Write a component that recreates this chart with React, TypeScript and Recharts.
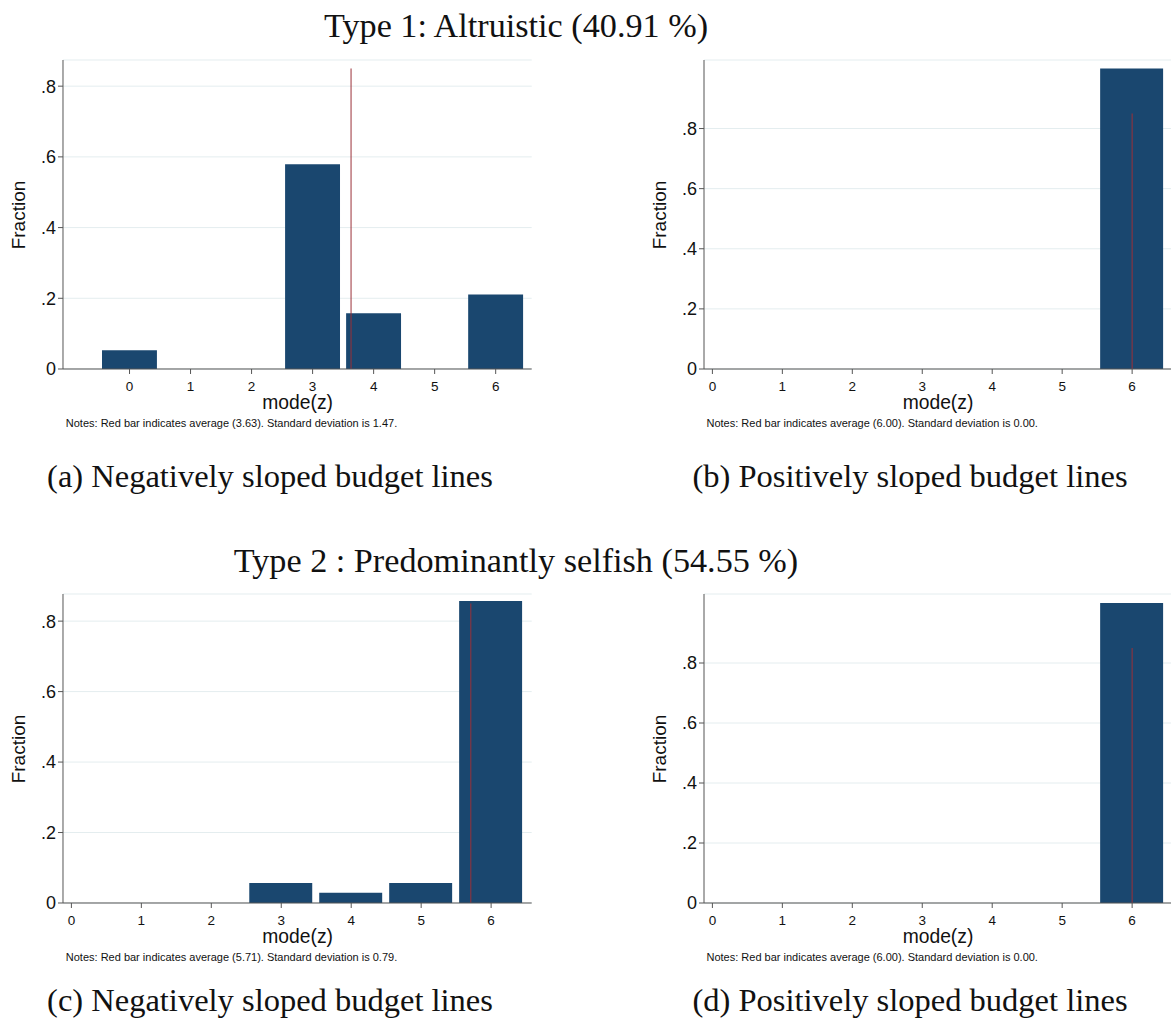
import React from 'react'
import { ComposedChart, Bar, XAxis, YAxis, CartesianGrid, ReferenceLine } from 'recharts'

// histogram of mode(z), one value per mode 0..6
const modes = [0, 1, 2, 3, 4, 5, 6]
const type1Negative = [0.053, 0, 0, 0.579, 0.158, 0, 0.211]
const type1Positive = [0, 0, 0, 0, 0, 0, 1]
const type2Negative = [0, 0, 0, 0.057, 0.029, 0.057, 0.857]
const type2Positive = [0, 0, 0, 0, 0, 0, 1]
const averages = [3.63, 6.0, 5.71, 6.0]
const stdDevs = [1.47, 0.0, 0.79, 0.0]
const redBarHeight = 0.85
const yTicks = [0, 0.2, 0.4, 0.6, 0.8]

const titles = ['Type 1: Altruistic (40.91 %)', 'Type 2 : Predominantly selfish (54.55 %)']
const captions = [
  '(a) Negatively sloped budget lines',
  '(b) Positively sloped budget lines',
  '(c) Negatively sloped budget lines',
  '(d) Positively sloped budget lines',
]

const NAVY = '#1a476f'
const RED = '#9b3038'
const GRID = '#e4edef'
const AXIS = '#555'
const SANS = '"Liberation Sans", Arial, sans-serif'
const SERIF = '"Liberation Serif", "Times New Roman", serif'

const fmtY = (v: number) => (v === 0 ? '0' : v.toFixed(1).replace(/^0/, ''))

interface PanelProps {
  values: number[]
  mean: number
  sd: number
  xDomain: [number, number]
  yMax: number
  plotLeft: number
  plotTop: number
  plotWidth: number
  plotHeight: number
}

function Panel({ values, mean, sd, xDomain, yMax, plotLeft, plotTop, plotWidth, plotHeight }: PanelProps) {
  const rows = modes.map((m, i) => ({ mode: m, fraction: values[i] }))
  const ML = 60
  const MT = 10
  const MR = 10
  const XH = 30
  // bars are 0.9 of one mode wide
  const barSize = (0.9 * plotWidth) / (xDomain[1] - xDomain[0])
  const cx = plotLeft + plotWidth / 2
  const cy = plotTop + plotHeight / 2

  return (
    <>
      <div style={{ position: 'absolute', left: plotLeft - ML, top: plotTop - MT }}>
        <ComposedChart
          width={ML + plotWidth + MR}
          height={MT + plotHeight + XH}
          data={rows}
          margin={{ top: MT, right: MR, bottom: 0, left: 0 }}
        >
          <CartesianGrid vertical={false} stroke={GRID} />
          <XAxis
            dataKey="mode"
            type="number"
            domain={xDomain}
            ticks={modes}
            interval={0}
            allowDataOverflow
            height={XH}
            tickSize={5}
            tickMargin={7}
            axisLine={{ stroke: AXIS }}
            tickLine={{ stroke: AXIS }}
            tick={{ fill: '#111', fontSize: 13.5, fontFamily: SANS }}
          />
          <YAxis
            type="number"
            domain={[0, yMax]}
            ticks={yTicks}
            allowDataOverflow
            width={ML}
            tickSize={5}
            tickMargin={2}
            tickFormatter={fmtY}
            axisLine={{ stroke: AXIS }}
            tickLine={{ stroke: AXIS }}
            tick={{ fill: '#111', fontSize: 18, fontFamily: SANS }}
          />
          <Bar dataKey="fraction" fill={NAVY} barSize={barSize} isAnimationActive={false} />
          <ReferenceLine
            segment={[{ x: mean, y: 0 }, { x: mean, y: redBarHeight }]}
            stroke={RED}
            strokeWidth={1}
          />
        </ComposedChart>
      </div>
      <div
        style={{
          position: 'absolute',
          left: plotLeft - 44,
          top: cy,
          transform: 'translate(-50%, -50%) rotate(-90deg)',
          fontFamily: SANS,
          fontSize: 19,
          lineHeight: 0.9,
          whiteSpace: 'nowrap',
          color: '#111',
        }}
      >
        Fraction
      </div>
      <div
        style={{
          position: 'absolute',
          left: cx,
          top: plotTop + plotHeight + 33.5,
          transform: 'translate(-50%, -50%)',
          fontFamily: SANS,
          fontSize: 19.3,
          lineHeight: 0.9,
          whiteSpace: 'nowrap',
          color: '#111',
        }}
      >
        mode(z)
      </div>
      <div
        style={{
          position: 'absolute',
          left: plotLeft + 2.5,
          top: plotTop + plotHeight + 54,
          transform: 'translateY(-50%)',
          fontFamily: SANS,
          fontSize: 11,
          lineHeight: 1,
          whiteSpace: 'nowrap',
          color: '#111',
        }}
      >
        {`Notes: Red bar indicates average (${mean.toFixed(2)}). Standard deviation is ${sd.toFixed(2)}.`}
      </div>
    </>
  )
}

function Caption({ text, cx, top, size }: { text: string; cx: number; top: number; size: number }) {
  return (
    <div
      style={{
        position: 'absolute',
        left: cx,
        top,
        transform: 'translateX(-50%)',
        fontFamily: SERIF,
        fontSize: size,
        lineHeight: 1,
        whiteSpace: 'nowrap',
        color: '#111',
      }}
    >
      {text}
    </div>
  )
}

export default function App() {
  const rowShift = 534
  const leftCol = { plotLeft: 63.3, plotWidth: 468.7 }
  const rightCol = { plotLeft: 704, plotWidth: 468 }
  const plotHeight = 309

  return (
    <div
      style={{
        position: 'absolute',
        left: 0,
        top: 0,
        width: 1171,
        height: 1026,
        overflow: 'hidden',
        background: '#fff',
      }}
    >
      <Caption text={titles[0]} cx={516} top={8.5} size={34.2} />
      <Caption text={titles[1]} cx={516} top={8.5 + rowShift + 1} size={34.2} />

      <Panel
        values={type1Negative}
        mean={averages[0]}
        sd={stdDevs[0]}
        xDomain={[-1.09, 6.59]}
        yMax={0.874}
        plotTop={60}
        plotHeight={plotHeight}
        {...leftCol}
      />
      <Panel
        values={type1Positive}
        mean={averages[1]}
        sd={stdDevs[1]}
        xDomain={[-0.12, 6.57]}
        yMax={1.028}
        plotTop={60}
        plotHeight={plotHeight}
        {...rightCol}
      />
      <Panel
        values={type2Negative}
        mean={averages[2]}
        sd={stdDevs[2]}
        xDomain={[-0.12, 6.58]}
        yMax={0.877}
        plotTop={60 + rowShift}
        plotHeight={plotHeight}
        {...leftCol}
      />
      <Panel
        values={type2Positive}
        mean={averages[3]}
        sd={stdDevs[3]}
        xDomain={[-0.12, 6.57]}
        yMax={1.03}
        plotTop={60 + rowShift}
        plotHeight={plotHeight}
        {...rightCol}
      />

      <Caption text={captions[0]} cx={270} top={459.5} size={32.5} />
      <Caption text={captions[1]} cx={910} top={459.5} size={32.5} />
      <Caption text={captions[2]} cx={270} top={984} size={32.5} />
      <Caption text={captions[3]} cx={910} top={984} size={32.5} />
    </div>
  )
}
